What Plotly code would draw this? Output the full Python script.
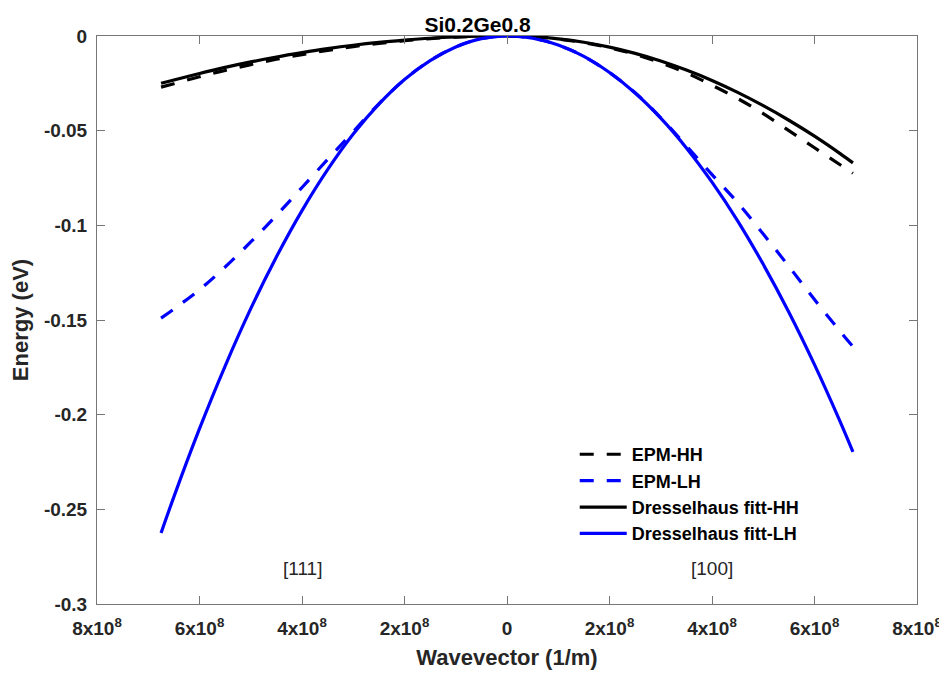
import plotly.graph_objects as go

# Wavevector grid (1/m); negative = [111] direction, positive = [100] direction
k = [-6.75e8, -6.5e8, -6e8, -5.5e8, -5e8, -4.5e8, -4e8, -3.5e8, -3e8, -2.5e8, -2e8, -1.5e8, -1e8, -0.5e8, 0,
     0.5e8, 1e8, 1.5e8, 2e8, 2.5e8, 3e8, 3.5e8, 4e8, 4.5e8, 5e8, 5.5e8, 6e8, 6.5e8, 6.75e8]

epm_hh = [-0.0270, -0.0252, -0.0215, -0.0182, -0.0151, -0.0123, -0.0098, -0.0076, -0.0056, -0.0039, -0.0025, -0.0014, -0.0006, -0.0002, 0.0,
          -0.0004, -0.0016, -0.0035, -0.0062, -0.0097, -0.0142, -0.0195, -0.0260, -0.0330, -0.0410, -0.0500, -0.0590, -0.0680, -0.0725]

epm_lh = [-0.1490, -0.1442, -0.1340, -0.1220, -0.1088, -0.0948, -0.0800, -0.0652, -0.0505, -0.0358, -0.0230, -0.0130, -0.0058, -0.0014, 0.0,
          -0.0012, -0.0048, -0.0108, -0.0193, -0.0300, -0.0432, -0.0580, -0.0732, -0.0880, -0.1046, -0.1217, -0.1392, -0.1560, -0.1640]

dres_hh = [-0.0250, -0.0232, -0.0198, -0.0166, -0.0137, -0.0111, -0.0088, -0.0067, -0.0049, -0.0034, -0.0022, -0.0012, -0.0005, -0.0001, 0.0,
           -0.0004, -0.0015, -0.0033, -0.0059, -0.0092, -0.0132, -0.0180, -0.0235, -0.0298, -0.0368, -0.0445, -0.0529, -0.0621, -0.0670]

dres_lh = [-0.2625, -0.2434, -0.2074, -0.1743, -0.1440, -0.1167, -0.0922, -0.0706, -0.0518, -0.0360, -0.0230, -0.0130, -0.0058, -0.0014, 0.0,
           -0.0012, -0.0048, -0.0108, -0.0193, -0.0301, -0.0434, -0.0591, -0.0772, -0.0976, -0.1206, -0.1459, -0.1736, -0.2037, -0.2197]

x_tick_vals = [-8e8, -6e8, -4e8, -2e8, 0, 2e8, 4e8, 6e8, 8e8]
x_tick_text = ["8x10<sup>8</sup>", "6x10<sup>8</sup>", "4x10<sup>8</sup>", "2x10<sup>8</sup>", "0",
               "2x10<sup>8</sup>", "4x10<sup>8</sup>", "6x10<sup>8</sup>", "8x10<sup>8</sup>"]
y_tick_vals = [0, -0.05, -0.1, -0.15, -0.2, -0.25, -0.3]
y_tick_text = ["0", "-0.05", "-0.1", "-0.15", "-0.2", "-0.25", "-0.3"]

FONT = "Liberation Sans, Arial, Helvetica, sans-serif"
DASH = "14px,13px"

fig = go.Figure()
fig.add_trace(go.Scatter(x=k, y=epm_hh, mode="lines", name="EPM-HH", line_shape="spline",
                         line=dict(color="black", width=3.2, dash=DASH)))
fig.add_trace(go.Scatter(x=k, y=epm_lh, mode="lines", name="EPM-LH", line_shape="spline",
                         line=dict(color="#0000ff", width=3.2, dash=DASH)))
fig.add_trace(go.Scatter(x=k, y=dres_hh, mode="lines", name="Dresselhaus fitt-HH", line_shape="spline",
                         line=dict(color="black", width=3.2)))
fig.add_trace(go.Scatter(x=k, y=dres_lh, mode="lines", name="Dresselhaus fitt-LH", line_shape="spline",
                         line=dict(color="#0000ff", width=3.2)))

fig.add_annotation(x=-4e8, y=-0.281, text="[111]", showarrow=False,
                   font=dict(family=FONT, size=19, color="#262626"))
fig.add_annotation(x=4e8, y=-0.281, text="[100]", showarrow=False,
                   font=dict(family=FONT, size=19, color="#262626"))

axis_common = dict(showline=True, mirror="ticks", linecolor="#777777", linewidth=1,
                   ticks="inside", ticklen=8, tickcolor="#777777", showgrid=False, zeroline=False,
                   automargin=False, ticklabeloverflow="allow",
                   tickfont=dict(family=FONT, size=19, color="#262626", weight="bold"))

# page body has an 8px margin; figure sized so the plot box lands where the reference has it
fig.update_layout(
    width=939, height=665,
    paper_bgcolor="white", plot_bgcolor="white",
    margin=dict(l=89, r=30, t=28, b=69),
    title=dict(text="<b>Si0.2Ge0.8</b>", x=0.5, xanchor="center", y=0.975, yanchor="middle",
               font=dict(family=FONT, size=21, color="black")),
    xaxis=dict(range=[-8e8, 8e8], tickvals=x_tick_vals, ticktext=x_tick_text, ticklabelstandoff=7,
               title=dict(text="<b>Wavevector (1/m)</b>", font=dict(family=FONT, size=22, color="#262626"), standoff=11),
               **axis_common),
    yaxis=dict(range=[-0.3, 0], tickvals=y_tick_vals, ticktext=y_tick_text, ticklabelstandoff=5,
               title=dict(text="<b>Energy (eV)</b>", font=dict(family=FONT, size=22, color="#262626"), standoff=14),
               **axis_common),
    legend=dict(x=0.5826, y=0.2957, xanchor="left", yanchor="top", bgcolor="rgba(255,255,255,0)",
                font=dict(family=FONT, size=18, color="black", weight="bold"),
                tracegroupgap=0, itemwidth=47),
    showlegend=True,
)

fig.write_html("out.html")
